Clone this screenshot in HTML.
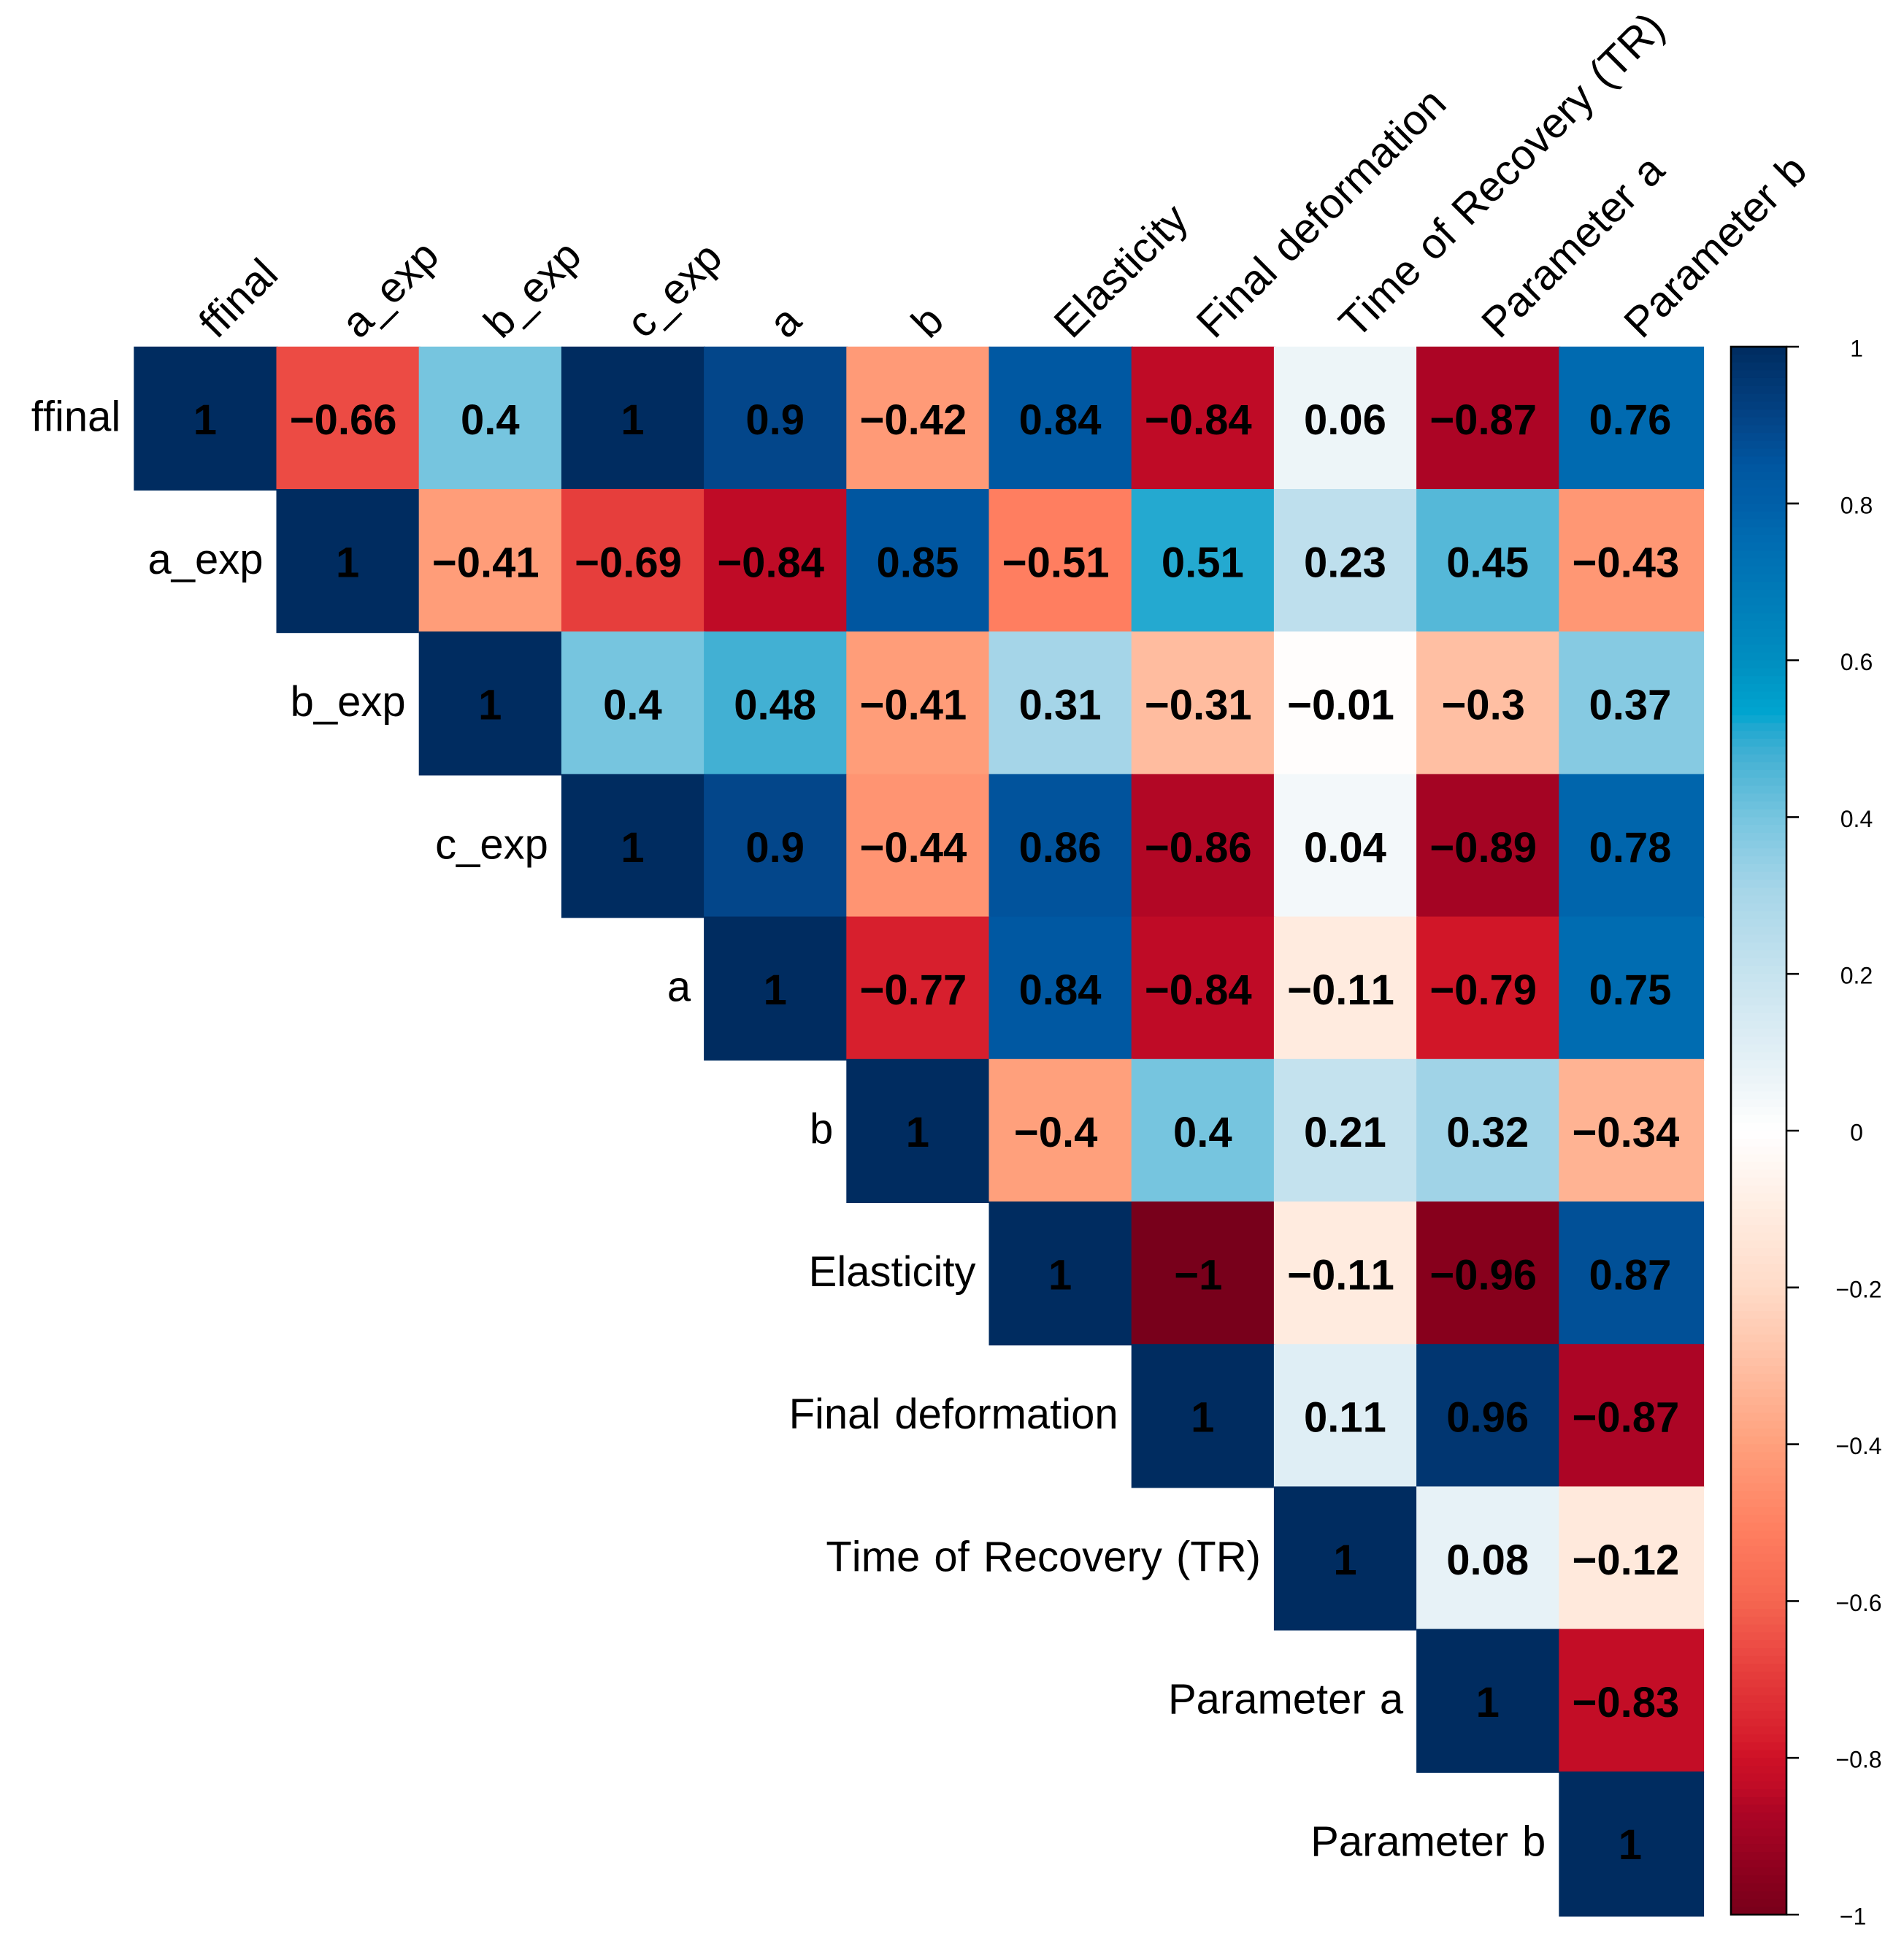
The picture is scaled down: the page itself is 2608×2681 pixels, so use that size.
<!DOCTYPE html>
<html lang="en">
<head>
<meta charset="utf-8">
<title>Correlation matrix</title>
<style>
html,body{margin:0;padding:0;background:#fff;}
svg{display:block;}
text{font-family:"Liberation Sans",Arial,sans-serif;fill:#000;font-kerning:none;font-variant-ligatures:none;}
</style>
</head>
<body>
<svg id="chart" xmlns="http://www.w3.org/2000/svg" width="2608" height="2681" viewBox="0 0 2608 2681">
  <rect x="0" y="0" width="2608" height="2681" fill="#ffffff"/>
  <g id="matrix"></g>
  <g id="col-labels"></g>
  <g id="row-labels"></g>
  <g id="legend"></g>
</svg>
<script>
const variables = ["ffinal","a_exp","b_exp","c_exp","a","b","Elasticity","Final deformation","Time of Recovery (TR)","Parameter a","Parameter b"];

const row1  = [1,-0.66,0.4,1,0.9,-0.42,0.84,-0.84,0.06,-0.87,0.76];
const row2  = [1,-0.41,-0.69,-0.84,0.85,-0.51,0.51,0.23,0.45,-0.43];
const row3  = [1,0.4,0.48,-0.41,0.31,-0.31,-0.01,-0.3,0.37];
const row4  = [1,0.9,-0.44,0.86,-0.86,0.04,-0.89,0.78];
const row5  = [1,-0.77,0.84,-0.84,-0.11,-0.79,0.75];
const row6  = [1,-0.4,0.4,0.21,0.32,-0.34];
const row7  = [1,-1,-0.11,-0.96,0.87];
const row8  = [1,0.11,0.96,-0.87];
const row9  = [1,0.08,-0.12];
const row10 = [1,-0.83];
const row11 = [1];
const correlationRows = [row1,row2,row3,row4,row5,row6,row7,row8,row9,row10,row11];

const legendTicks = [1,0.8,0.6,0.4,0.2,0,-0.2,-0.4,-0.6,-0.8,-1];

const rampValues = [-1,-0.96,-0.87,-0.84,-0.8,-0.77,-0.69,-0.66,-0.6,-0.51,-0.4,-0.3,-0.2,-0.11,0,0.06,0.11,0.21,0.31,0.4,0.48,0.52,0.53,0.6,0.76,0.8,0.85,0.9,1];
const rampColors = ["#78001B","#87001C","#AC0525","#BF0B26","#CE1126","#D71F2D","#E63E3C","#EC4B44","#F56650","#FF7E60","#FFA07C","#FFBFA3","#FFDBC8","#FFEBDF","#FFFFFF","#EDF5F8","#DFEEF5","#C4E2EE","#A5D5E8","#76C5DF","#42B0D3","#1AA7CF","#00A6D0","#008EC0","#006AB0","#005FA8","#0056A0","#03468A","#002C60"];

const SVGNS = "http://www.w3.org/2000/svg";
const matrixLeft = 183.3, matrixTop = 474.8, pitch = 195.2, cellSize = 197.2, lastCellSize = 198.8;
const xAt = j => matrixLeft + j * pitch;
const yAt = i => matrixTop + i * pitch;
const legendLeft = 2371, legendRight = 2447, tickEnd = 2464, legendLabelX = 2543;
const legendY = v => 1549 - v * 1074;

function hexToRgb(h){return [parseInt(h.slice(1,3),16),parseInt(h.slice(3,5),16),parseInt(h.slice(5,7),16)];}
function colorFor(v){
  const c = Math.max(-1, Math.min(1, v));
  let k = 0;
  while (k < rampValues.length - 2 && c > rampValues[k + 1]) k++;
  const t = (c - rampValues[k]) / (rampValues[k + 1] - rampValues[k]);
  const a = hexToRgb(rampColors[k]), b = hexToRgb(rampColors[k + 1]);
  return "rgb(" + a.map((p, n) => Math.round(p + (b[n] - p) * t)).join(",") + ")";
}
function formatValue(v){return (v < 0 ? "\u2212" : "") + String(Math.abs(v));}
function make(tag, attrs){
  const el = document.createElementNS(SVGNS, tag);
  for (const key in attrs) el.setAttribute(key, attrs[key]);
  return el;
}

const matrix = document.getElementById("matrix");
correlationRows.forEach((values, i) => {
  values.forEach((v, k) => {
    const j = i + k;
    const rect = make("rect", {
      x: xAt(j), y: yAt(i),
      width: j === variables.length - 1 ? lastCellSize : cellSize,
      height: i === variables.length - 1 ? lastCellSize : cellSize,
      fill: colorFor(v)
    });
    
    
    matrix.appendChild(rect);
  });
});
correlationRows.forEach((values, i) => {
  values.forEach((v, k) => {
    const j = i + k;
    const label = make("text", {
      x: xAt(j) + pitch / 2 + (v < 0 ? -6 : 0),
      y: 595.2 + i * pitch,
      "text-anchor": "middle",
      "font-size": 58,
      "font-weight": "bold"
    });
    
    
    label.textContent = formatValue(v);
    matrix.appendChild(label);
  });
});

const colLabels = document.getElementById("col-labels");
const rowLabels = document.getElementById("row-labels");
variables.forEach((name, i) => {
  const px = xAt(i) + pitch / 2 + 16, py = 466;
  const col = make("text", {
    x: px, y: py,
    "font-size": 58.2,
    "word-spacing": 4,
    transform: "rotate(-45 " + px + " " + py + ")"
  });
  
  
  col.textContent = name;
  colLabels.appendChild(col);

  const row = make("text", {
    x: xAt(i) - 18,
    y: yAt(i) + pitch / 2 + 18.3,
    "text-anchor": "end",
    "font-size": 58,
    "word-spacing": 3
  });
  
  
  row.textContent = name;
  rowLabels.appendChild(row);
});

const legend = document.getElementById("legend");
const bandCount = 200;
for (let b = 0; b < bandCount; b++) {
  const hi = 1 - 2 * b / bandCount, lo = 1 - 2 * (b + 1) / bandCount;
  const band = make("rect", {
    x: legendLeft, y: legendY(hi),
    width: legendRight - legendLeft,
    height: legendY(lo) - legendY(hi) + 0.6,
    fill: colorFor((hi + lo) / 2)
  });
  
  
  legend.appendChild(band);
}
const frame = make("rect", {
  x: legendLeft, y: legendY(1),
  width: legendRight - legendLeft,
  height: legendY(-1) - legendY(1),
  fill: "none", stroke: "#000", "stroke-width": 2.6
});


legend.appendChild(frame);

legendTicks.forEach(v => {
  const tick = make("line", {
    x1: legendRight, x2: tickEnd,
    y1: legendY(v), y2: legendY(v),
    stroke: "#000", "stroke-width": 2.6
  });
  
  
  legend.appendChild(tick);

  const text = make("text", {
    x: legendLabelX + (v === -1 ? -5 : v < 0 ? 3 : 0),
    y: legendY(v) + 13.5,
    "text-anchor": "middle",
    "font-size": 32
  });
  
  
  text.textContent = formatValue(v);
  legend.appendChild(text);
});
</script>
</body>
</html>
